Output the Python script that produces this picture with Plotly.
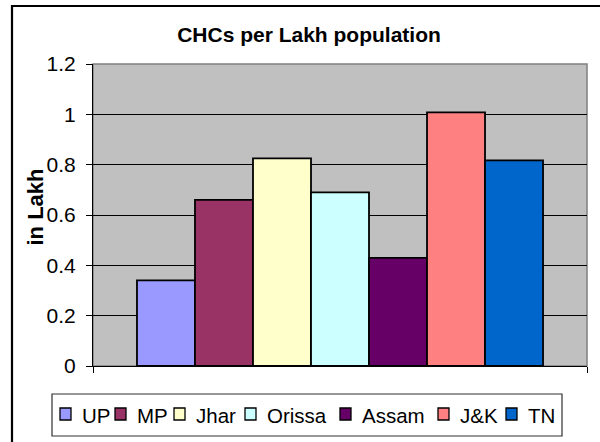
import plotly.graph_objects as go

# ---- data ----
states = ["UP", "MP", "Jhar", "Orissa", "Assam", "J&K", "TN"]
values = [0.34, 0.66, 0.825, 0.69, 0.43, 1.008, 0.817]
colors = ["#9999FF", "#993366", "#FFFFCC", "#CCFFFF", "#660066", "#FF8080", "#0066CC"]
y_ticks = [0, 0.2, 0.4, 0.6, 0.8, 1.0, 1.2]
y_tick_text = ["0", "0.2", "0.4", "0.6", "0.8", "1", "1.2"]

# ---- layout constants (pixels) ----
FONT = "Liberation Sans, Arial, sans-serif"
W, H = 600, 442
L, R, T, B = 93, 13, 64, 76
PW, PH = W - L - R, H - T - B

# legend layout (pixel positions of each legend square's left edge)
LEG_BOX = (52, 394, 562, 436)
LEG_SQ_X = [60, 115, 174, 245, 340, 438, 506]
LEG_SQ_Y = (408, 420)
LEG_SQ_W = 11
LEG_TEXT_DX = 20
LEG_TEXT_Y = 415


def px(x):
    return (x - L) / PW


def py(y):
    return (H - B - y) / PH


fig = go.Figure()
for s, v, c in zip(states, values, colors):
    fig.add_trace(go.Bar(
        x=[0], y=[v], name=s,
        marker=dict(color=c, line=dict(color="black", width=1.8)),
    ))

fig.update_layout(
    width=W, height=H,
    margin=dict(l=L, r=R, t=T, b=B, pad=0, autoexpand=False),
    paper_bgcolor="white",
    plot_bgcolor="#C0C0C0",
    barmode="group",
    bargap=0.178,
    bargroupgap=0,
    showlegend=False,
    font=dict(family=FONT, size=20, color="black"),
    title=dict(
        text="<b>CHCs per Lakh population</b>",
        font=dict(family=FONT, size=21, color="black"),
        xref="container", yref="container",
        x=309 / W, y=1 - 35 / H, xanchor="center", yanchor="middle",
    ),
    xaxis=dict(
        range=[-0.5, 0.5], showgrid=False, zeroline=False, automargin=False,
        showline=True, linecolor="black", linewidth=1,
        tickvals=[-0.5, 0.5], ticks="outside", ticklen=6,
        tickcolor="black", showticklabels=False, fixedrange=True,
    ),
    yaxis=dict(
        range=[0, 1.2], tickvals=y_ticks, ticktext=y_tick_text,
        showgrid=True, gridcolor="black", gridwidth=1, automargin=False,
        zeroline=False, showline=True, linecolor="black", linewidth=1,
        ticks="outside", ticklen=6, tickcolor="black",
        tickfont=dict(size=21), ticklabelstandoff=6, fixedrange=True,
    ),
)

# y-axis title
fig.add_annotation(text="<b>in Lakh</b>", xref="paper", yref="paper",
                   x=px(34.5), y=py(207), textangle=-90, showarrow=False,
                   xanchor="center", yanchor="middle",
                   font=dict(family=FONT, size=22, color="black"))

# gray plot-area frame
fig.add_shape(type="rect", xref="paper", yref="paper", x0=0, x1=1, y0=0, y1=1,
              line=dict(color="#808080", width=1.5), layer="below")

# outer chart border (left/top edges visible, the rest cropped off)
fig.add_shape(type="rect", xref="paper", yref="paper",
              x0=px(12), x1=px(W + 20), y0=py(H + 20), y1=py(6),
              line=dict(color="black", width=2.2), layer="above")

# legend box
lx0, ly0, lx1, ly1 = LEG_BOX
fig.add_shape(type="rect", xref="paper", yref="paper",
              x0=px(lx0), x1=px(lx1), y0=py(ly1), y1=py(ly0),
              line=dict(color="#303030", width=1.2), fillcolor="white", layer="above")

# legend entries
for s, c, sx in zip(states, colors, LEG_SQ_X):
    fig.add_shape(type="rect", xref="paper", yref="paper",
                  x0=px(sx), x1=px(sx + LEG_SQ_W),
                  y0=py(LEG_SQ_Y[1]), y1=py(LEG_SQ_Y[0]),
                  line=dict(color="black", width=1.3), fillcolor=c, layer="above")
    fig.add_annotation(text=s, xref="paper", yref="paper",
                       x=px(sx + LEG_TEXT_DX), y=py(LEG_TEXT_Y),
                       xanchor="left", yanchor="middle", showarrow=False,
                       font=dict(family=FONT, size=20.5, color="black"))

fig.write_html(
    "out.html",
    config={"displayModeBar": False, "staticPlot": True},
    post_script="document.body.style.margin='0';document.body.style.overflow='hidden';",
)
